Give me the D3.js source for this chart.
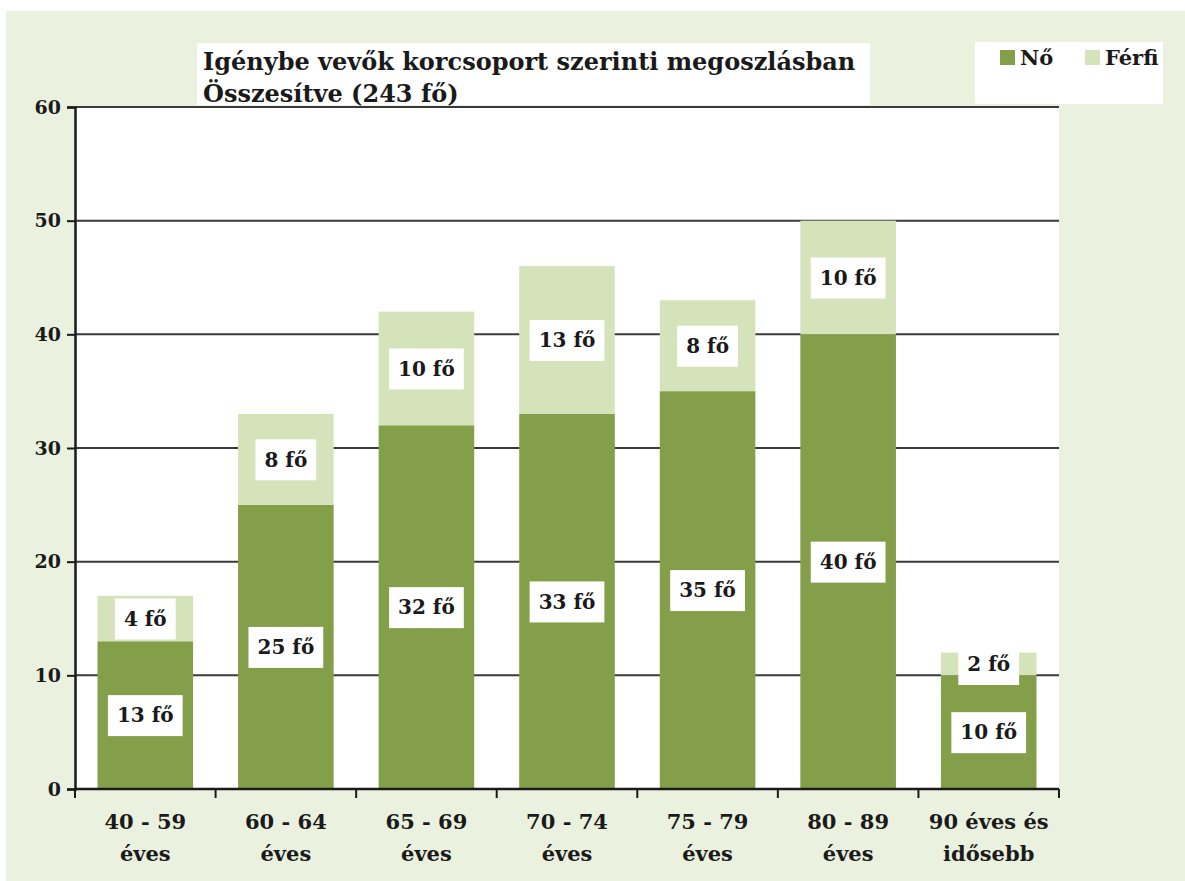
<!DOCTYPE html>
<html>
<head>
<meta charset="utf-8">
<script src="https://cdn.jsdelivr.net/npm/d3@7"></script>
<style>
  body { margin: 0; background: #fff; }
  svg { display: block; }
  text { font-family: "DejaVu Serif", serif; font-weight: bold; fill: #1a1a1a; }
</style>
</head>
<body>
<div id="chart"></div>
<script>
const categories = [['40 - 59', 'éves'], ['60 - 64', 'éves'], ['65 - 69', 'éves'], ['70 - 74', 'éves'],
  ['75 - 79', 'éves'], ['80 - 89', 'éves'], ['90 éves és', 'idősebb']];
const noValues = [13, 25, 32, 33, 35, 40, 10];
const ferfiValues = [4, 8, 10, 13, 8, 10, 2];
const yTicks = [0, 10, 20, 30, 40, 50, 60];
const seriesNames = ['Nő', 'Férfi'];
const titleLines = ['Igénybe vevők korcsoport szerinti megoszlásban', 'Összesítve (243 fő)'];

const W = 1185, H = 881;
const margin = { top: 107, right: 126, bottom: 92, left: 75 };
const width = W - margin.left - margin.right;
const height = H - margin.top - margin.bottom;
const colors = ['#849f4a', '#d5e3ba'];

const svg = d3.select('#chart').append('svg').attr('width', W).attr('height', H);

svg.append('rect').attr('x', 6).attr('y', 11).attr('width', W - 6).attr('height', H - 11).attr('fill', '#eaf1de');

const g = svg.append('g').attr('transform', `translate(${margin.left},${margin.top})`);
g.append('rect').attr('width', width).attr('height', height).attr('fill', '#fff');

const x = d3.scaleBand().domain(d3.range(categories.length)).range([0, width]).paddingInner(0.32).paddingOuter(0.16);
const xb = d3.scaleBand().domain(d3.range(categories.length)).range([0, width]);
const y = d3.scaleLinear().domain([0, 60]).range([height, 0]);

// gridlines
g.selectAll('.grid').data(yTicks.filter(d => d > 0)).join('line')
  .attr('x1', 0).attr('x2', width)
  .attr('y1', d => y(d)).attr('y2', d => y(d))
  .attr('stroke', '#3a3a3a').attr('stroke-width', 2);

const rows = categories.map((c, i) => ({ i, no: noValues[i], ferfi: ferfiValues[i] }));
const stack = d3.stack().keys(['no', 'ferfi'])(rows);

const layers = g.selectAll('.layer').data(stack).join('g').attr('fill', (d, k) => colors[k]);
layers.selectAll('rect').data(d => d).join('rect')
  .attr('x', d => x(d.data.i))
  .attr('width', x.bandwidth())
  .attr('y', d => y(d[1]))
  .attr('height', d => y(d[0]) - y(d[1]));

// segment labels
const labels = [];
stack.forEach(layer => layer.forEach(d => labels.push({ i: d.data.i, v: d[1] - d[0], mid: (d[0] + d[1]) / 2 })));
const lab = g.selectAll('.lab').data(labels).join('g')
  .attr('transform', d => `translate(${x(d.i) + x.bandwidth() / 2},${y(d.mid)})`);
lab.append('rect').attr('fill', '#fff').attr('y', -20).attr('height', 41);
lab.append('text').attr('text-anchor', 'middle').attr('dy', '0.36em').attr('font-size', 20)
  .text(d => `${d.v} fő`);
lab.each(function () {
  const t = d3.select(this).select('text').node().getComputedTextLength();
  d3.select(this).select('rect').attr('x', -t / 2 - 9).attr('width', t + 18);
});

// y axis
const yAxis = g.append('g').call(d3.axisLeft(y).tickValues(yTicks).tickSize(8).tickPadding(6));
yAxis.select('.domain').attr('stroke', '#1a1a1a').attr('stroke-width', 2.5);
yAxis.selectAll('.tick line').attr('stroke', '#1a1a1a').attr('stroke-width', 2);
yAxis.selectAll('.tick text').attr('font-size', 19).attr('font-family', '"DejaVu Serif", serif').attr('font-weight', 'bold').attr('fill', '#1a1a1a');

// x axis
const xAxisG = g.append('g').attr('transform', `translate(0,${height})`);
xAxisG.append('line').attr('x1', 0).attr('x2', width).attr('stroke', '#1a1a1a').attr('stroke-width', 2.5);
xAxisG.selectAll('.xt').data(d3.range(categories.length + 1)).join('line')
  .attr('x1', d => d * xb.step()).attr('x2', d => d * xb.step())
  .attr('y1', 0).attr('y2', 9).attr('stroke', '#1a1a1a').attr('stroke-width', 2);
const xl = xAxisG.selectAll('.xl').data(categories).join('text')
  .attr('text-anchor', 'middle').attr('font-size', 21)
  .attr('transform', (d, i) => `translate(${xb(i) + xb.bandwidth() / 2},0)`);
xl.selectAll('tspan').data(d => d).join('tspan')
  .attr('x', 0).attr('y', (d, k) => 40 + k * 32).text(d => d);

// title
svg.append('rect').attr('x', 197).attr('y', 43).attr('width', 673).attr('height', 62).attr('fill', '#fff');
svg.append('text').attr('x', 203).attr('font-size', 24)
  .selectAll('tspan').data(titleLines).join('tspan')
  .attr('x', 203).attr('y', (d, k) => 70 + k * 32).text(d => d);

// legend
svg.append('rect').attr('x', 975).attr('y', 42).attr('width', 188).attr('height', 62).attr('fill', '#fff');
const leg = svg.selectAll('.leg').data(seriesNames).join('g')
  .attr('transform', (d, k) => `translate(${1000 + k * 85},50)`);
leg.append('rect').attr('width', 15).attr('height', 15).attr('fill', (d, k) => colors[k]);
leg.append('text').attr('x', 20).attr('y', 15).attr('font-size', 21).text(d => d);
</script>
</body>
</html>
